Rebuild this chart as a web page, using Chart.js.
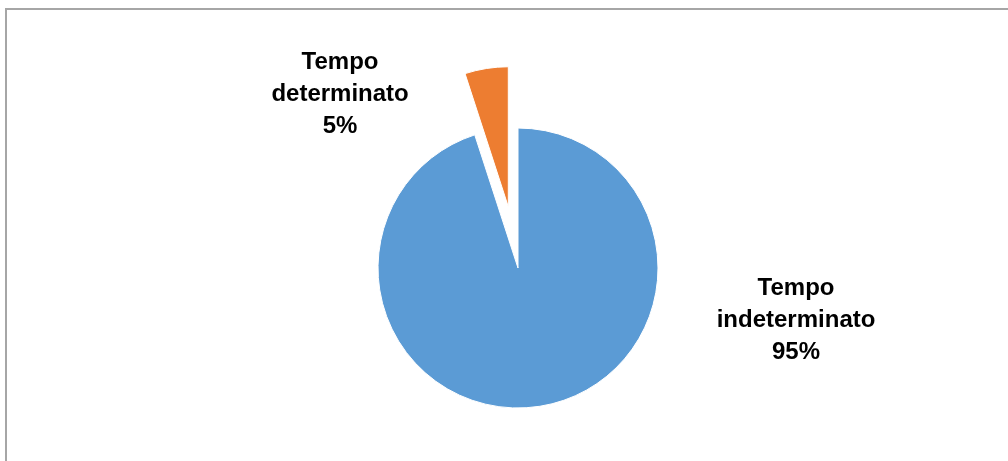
<!DOCTYPE html>
<html lang="it">
<head>
    <meta charset="utf-8" />
    <title>Tipologia contratto</title>
    <script src="https://cdn.jsdelivr.net/npm/chart.js"></script>
    <style>
        html, body { margin: 0; padding: 0; background: #fff; overflow: hidden; }
        #wrap { position: relative; width: 1008px; height: 461px; }
        #frame {
            position: absolute; left: 5px; top: 8px; width: 1100px; height: 500px;
            border-top: 2px solid #a6a6a6; border-left: 2px solid #a6a6a6;
        }
        #contractChart { position: absolute; left: 0; top: 0; }
    </style>
</head>
<body>
    <div id="wrap">
        <div id="frame"></div>
        <canvas id="contractChart" width="1008" height="461"></canvas>
    </div>
    <script>
        const categories = ['Tempo indeterminato', 'Tempo determinato'];
        const shares = [95, 5];
        const sliceColors = ['#5b9bd5', '#ed7d31'];
        const sliceOffsets = [0, 62];
        // label anchor (baseline of the middle line) relative to the pie centre, in radius units
        const labelAnchors = [[1.986, 0.42], [-1.271, -1.193]];

        // pull exploded slices straight out along their mid angle, keeping the radius
        const explodeSlices = {
            id: 'explodeSlices',
            beforeDatasetDraw(chart, args) {
                const ctx = chart.ctx;
                const meta = args.meta;
                meta.data.forEach(arc => {
                    const opts = arc.options;
                    const off = opts.offset || 0;
                    const mid = (arc.startAngle + arc.endAngle) / 2;
                    ctx.save();
                    ctx.translate(Math.cos(mid) * off, Math.sin(mid) * off);
                    arc.options = Object.assign({}, opts, { offset: 0 });
                    arc.draw(ctx, chart.chartArea);
                    arc.options = opts;
                    ctx.restore();
                });
                return false;
            }
        };

        const outsideLabels = {
            id: 'outsideLabels',
            afterDatasetsDraw(chart) {
                const ctx = chart.ctx;
                const meta = chart.getDatasetMeta(0);
                const total = shares.reduce((a, b) => a + b, 0);
                ctx.save();
                ctx.fillStyle = '#000';
                ctx.font = 'bold 24px "Liberation Sans", Arial, sans-serif';
                ctx.textAlign = 'center';
                ctx.textBaseline = 'alphabetic';
                meta.data.forEach((arc, i) => {
                    const r = arc.outerRadius;
                    const cx = arc.x + labelAnchors[i][0] * r;
                    const cy = arc.y + labelAnchors[i][1] * r;
                    const words = categories[i].split(' ');
                    const pct = Math.round(shares[i] / total * 100) + '%';
                    const lines = [words[0], words.slice(1).join(' '), pct];
                    lines.forEach((line, k) => {
                        ctx.fillText(line, cx, cy + (k - 1) * 32);
                    });
                });
                ctx.restore();
            }
        };

        new Chart(document.getElementById('contractChart'), {
            type: 'pie',
            data: {
                labels: categories,
                datasets: [{
                    data: shares,
                    backgroundColor: sliceColors,
                    borderColor: '#ffffff',
                    borderWidth: 1,
                    offset: sliceOffsets
                }]
            },
            options: {
                responsive: false,
                animation: false,
                radius: 140,
                rotation: 0,
                layout: { padding: { left: 128, right: 100, top: 100, bottom: 25 } },
                plugins: {
                    legend: { display: false },
                    tooltip: { enabled: false }
                }
            },
            plugins: [explodeSlices, outsideLabels]
        });
    </script>
</body>
</html>
